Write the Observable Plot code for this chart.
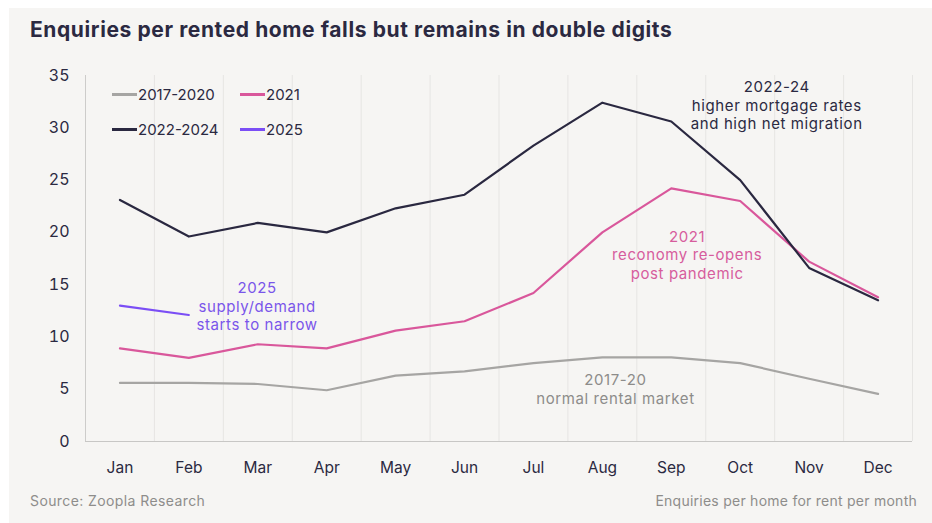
<!DOCTYPE html>
<html>
<head>
<meta charset="utf-8">
<script src="https://cdn.jsdelivr.net/npm/d3@7"></script>
<script src="https://cdn.jsdelivr.net/npm/@observablehq/plot@0.6"></script>
<style>
  html, body { margin: 0; padding: 0; background: #ffffff; }
  body { width: 932px; height: 523px; position: relative; overflow: hidden; font-family: Inter, "Noto Sans", sans-serif; }
  #panel { position: absolute; left: 9px; top: 8px; width: 923px; height: 515px; background: #f6f5f3; }
  #title { position: absolute; left: 21px; top: 9px; font-size: 21px; line-height: 26px; font-weight: 700; color: #2b2941; white-space: nowrap; letter-spacing: 0.6px; }
  #chart { position: absolute; left: 0; top: 52px; }
  #chart g[aria-label="text"] text { letter-spacing: 0.6px; }
  .foot { position: absolute; top: 484px; font-size: 14px; line-height: 18px; color: #8e8d8b; white-space: nowrap; }
  #source { left: 21px; letter-spacing: 0.4px; }
  #note { right: 15px; letter-spacing: 0.25px; }
  .leg { position: absolute; font-size: 15px; line-height: 18px; color: #2b2941; white-space: nowrap; }
  .leg .sw { display: inline-block; width: 25px; height: 3px; vertical-align: middle; margin-right: 1px; position: relative; top: -1px; }
</style>
</head>
<body>
<div id="panel">
  <div id="title">Enquiries per rented home falls but remains in double digits</div>
  <div id="chart"></div>
  <div id="source" class="foot">Source: Zoopla Research</div>
  <div id="note" class="foot">Enquiries per home for rent per month</div>
</div>
<script>
const months = ["Jan","Feb","Mar","Apr","May","Jun","Jul","Aug","Sep","Oct","Nov","Dec"];
const yTicks = [0, 5, 10, 15, 20, 25, 30, 35];

const seriesNames = ["2017-2020", "2021", "2022-2024", "2025"];
const values2017_2020 = [5.6, 5.6, 5.5, 4.9, 6.3, 6.7, 7.5, 8.05, 8.05, 7.5, 6.0, 4.55];
const values2021      = [8.9, 8.0, 9.3, 8.9, 10.6, 11.5, 14.2, 20.0, 24.2, 23.0, 17.2, 13.8];
const values2022_2024 = [23.1, 19.6, 20.9, 20.0, 22.3, 23.6, 28.3, 32.4, 30.6, 25.0, 16.6, 13.5];
const values2025      = [13.0, 12.1];

const seriesColors = {"2017-2020": "#a6a5a3", "2021": "#d9579b", "2022-2024": "#2a2840", "2025": "#7b4ef5"};
const textColors = {"2017-2020": "#8d8c8a", "2021": "#d65d9d", "2022-2024": "#2b2941", "2025": "#7a55ea"};

// annotation anchors in data space (x: month position, y: value)
const annotationSeries = ["2022-2024", "2021", "2025", "2017-2020"];
const annotationText = [
  "2022-24\nhigher mortgage rates\nand high net migration",
  "2021\nreconomy re-opens\npost pandemic",
  "2025\nsupply/demand\nstarts to narrow",
  "2017-20\nnormal rental market"
];
const annotationX = [10.03, 8.73, 2.49, 7.69];
const annotationY = [32.2, 17.9, 13.0, 5.05];

const seriesValues = [values2017_2020, values2021, values2022_2024, values2025];
const rows = [];
seriesNames.forEach((name, s) => {
  seriesValues[s].forEach((v, i) => rows.push({series: name, x: i + 0.5, month: months[i], value: v}));
});
const annotations = annotationText.map((t, i) => ({text: t, series: annotationSeries[i], x: annotationX[i], y: annotationY[i]}));
const bandEdges = d3.range(months.length + 1);

const chart = Plot.plot({
  width: 923,
  height: 420,
  marginLeft: 76,
  marginRight: 20,
  marginTop: 15,
  marginBottom: 39,
  style: {background: "transparent", fontFamily: "Inter, 'Noto Sans', sans-serif", color: "#2b2941", overflow: "visible"},
  x: {domain: [0, months.length]},
  y: {domain: [0, 35]},
  marks: [
    Plot.ruleX(bandEdges, {stroke: d => d === 0 ? "#cdccca" : "#e6e5e3", strokeWidth: 1}),
    Plot.ruleY([0], {stroke: "#c8c7c5", strokeWidth: 1.2}),
    Plot.axisY({ticks: yTicks, tickSize: 0, tickPadding: 16, fontSize: 16, label: null, fill: "#2b2941"}),
    Plot.axisX({ticks: months.map((m, i) => i + 0.5), tickFormat: d => months[Math.floor(d)], tickSize: 0, tickPadding: 20, fontSize: 15.5, label: null, fill: "#2b2941"}),
    Plot.line(rows, {x: "x", y: "value", z: "series", stroke: d => seriesColors[d.series], strokeWidth: 2.2, strokeLinejoin: "round", strokeLinecap: "round"}),
    Plot.text(annotations, {x: "x", y: "y", text: "text", fill: d => textColors[d.series], fontSize: 15, lineHeight: 1.24, textAnchor: "middle"})
  ]
});
document.getElementById("chart").appendChild(chart);

// legend (2 x 2) inside the plot area
const panel = document.getElementById("panel");
const legendLeft = [103, 231];
const legendTop = [78, 113];
seriesNames.forEach((name, i) => {
  const el = document.createElement("div");
  el.className = "leg";
  el.style.left = legendLeft[i % 2] + "px";
  el.style.top = legendTop[Math.floor(i / 2)] + "px";
  const sw = document.createElement("span");
  sw.className = "sw";
  sw.style.background = seriesColors[name];
  el.appendChild(sw);
  el.appendChild(document.createTextNode(name));
  panel.appendChild(el);
});
</script>
</body>
</html>
